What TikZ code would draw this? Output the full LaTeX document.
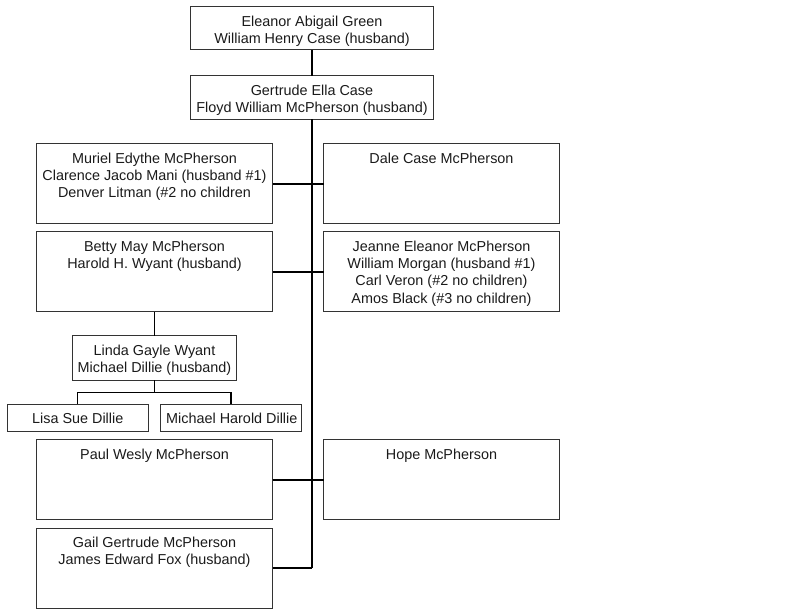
\documentclass[tikz,border=0pt]{standalone}
\usepackage{fontspec}
\setmainfont{Liberation Sans}
\definecolor{boxc}{HTML}{333333}
\definecolor{txtc}{HTML}{1A1A1A}
\begin{document}
\begin{tikzpicture}[x=1pt,y=-1pt,
  box/.style={draw=boxc, line width=1pt, inner sep=0pt, outer sep=0pt, anchor=north west},
  txt/.style={font=\fontsize{14.4}{17.4}\selectfont, align=center, inner sep=0pt, anchor=north, text=txtc},
  conn/.style={draw=black, line width=1.1pt},
  trunk/.style={draw=black, line width=1.5pt}]
\path[use as bounding box] (0,0) rectangle (793,609);

% boxes
\node[box, minimum width=243pt, minimum height=43pt]   (b1)      at (190.5,7)   {};
\node[box, minimum width=243pt, minimum height=43.5pt] (b2)      at (190.5,76)  {};
\node[box, minimum width=236pt, minimum height=80pt]   (muriel)  at (36.5,144)  {};
\node[box, minimum width=236pt, minimum height=80pt]   (dale)    at (323.5,144) {};
\node[box, minimum width=236pt, minimum height=80pt]   (betty)   at (36.5,232)  {};
\node[box, minimum width=236pt, minimum height=80pt]   (jeanne)  at (323.5,232) {};
\node[box, minimum width=164pt, minimum height=44.5pt] (linda)   at (72.5,336)  {};
\node[box, minimum width=140.5pt, minimum height=27.5pt] (lisa)  at (7.5,404.5) {};
\node[box, minimum width=141pt, minimum height=27.5pt] (michael) at (160.5,404.5) {};
\node[box, minimum width=236pt, minimum height=80pt]   (paul)    at (36.5,440)  {};
\node[box, minimum width=236pt, minimum height=80pt]   (hope)    at (323.5,440) {};
\node[box, minimum width=236pt, minimum height=80pt]   (gail)    at (36.5,528)  {};

% texts
\node[txt] (t1) at (312,15.5) {Eleanor Abigail Green\\William Henry Case (husband)};
\node[txt] (t2) at (312,84.5) {Gertrude Ella Case\\Floyd William McPherson (husband)};
\node[txt] (tmuriel) at (154.5,152.5) {Muriel Edythe McPherson\\Clarence Jacob Mani (husband \#1)\\Denver Litman (\#2 no children};
\node[txt] (tdale) at (441.5,152.5) {Dale Case McPherson};
\node[txt] (tbetty) at (154.5,240.5) {Betty May McPherson\\Harold H. Wyant (husband)};
\node[txt] (tjeanne) at (441.5,240.5) {Jeanne Eleanor McPherson\\William Morgan (husband \#1)\\Carl Veron (\#2 no children)\\Amos Black (\#3 no children)};
\node[txt] (tlinda) at (154.5,344.5) {Linda Gayle Wyant\\Michael Dillie (husband)};
\node[txt] (tlisa) at (77.75,413) {Lisa Sue Dillie};
\node[txt, anchor=north west] (tmichael) at (166,413) {Michael Harold Dillie};
\node[txt] (tpaul) at (154.5,448.5) {Paul Wesly McPherson};
\node[txt] (thope) at (441.5,448.5) {Hope McPherson};
\node[txt] (tgail) at (154.5,536.5) {Gail Gertrude McPherson\\James Edward Fox (husband)};

% connectors
\coordinate (tend) at (b2.south |- gail.east);
\coordinate (fork) at (154.5,392.7);
\draw[trunk] (b1.south) -- (b2.north);
\draw[trunk] (b2.south) -- (tend);
\draw[conn] (muriel.east) -- (dale.west);
\draw[conn] (betty.east) -- (jeanne.west);
\draw[conn] (paul.east) -- (hope.west);
\draw[conn] (gail.east) -- (tend);
\draw[conn] (betty.south) -- (linda.north);
\draw[conn] (linda.south) -- (fork);
\draw[conn] (lisa.north) |- (fork) -| (michael.north);
\end{tikzpicture}
\end{document}
